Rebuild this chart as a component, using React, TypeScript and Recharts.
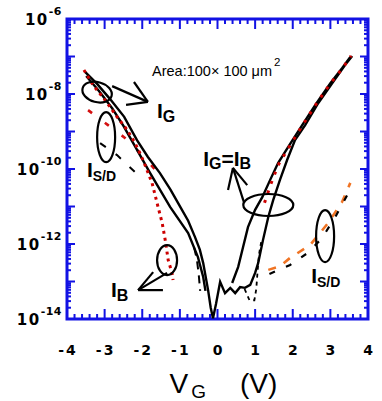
import React from "react";
import {
  LineChart,
  Line,
  XAxis,
  YAxis,
  ReferenceArea,
  ReferenceDot,
  ReferenceLine,
} from "recharts";

type Pt = [number, number];

// [V_G (V), log10 I (A)]
const igOuter: Pt[] = [
  [-3.52, -7.41], [-3.2, -7.73], [-2.86, -8.13], [-2.48, -8.61], [-2.14, -9.23],
  [-1.85, -9.68], [-1.53, -10.11], [-1.25, -10.55], [-0.99, -11.01], [-0.78, -11.38],
  [-0.6, -11.81], [-0.47, -12.15], [-0.38, -12.51], [-0.25, -13.23], [-0.18, -13.7],
  [-0.12, -13.98], [-0.04, -13.6], [0.07, -13.01], [0.2, -13.31], [0.34, -13.17],
  [0.47, -13.31], [0.6, -13.15], [0.73, -13.17], [0.87, -13.09], [1.0, -12.77],
  [1.08, -12.51], [1.21, -11.89], [1.35, -11.28], [1.48, -10.83], [1.66, -10.29],
  [1.85, -9.76], [2.06, -9.23], [2.33, -8.83], [2.68, -8.24], [3.07, -7.68],
  [3.39, -7.23], [3.58, -6.99],
];
const igInnerLeft: Pt[] = [
  [-3.49, -7.52], [-3.15, -7.92], [-2.8, -8.38], [-2.5, -8.85], [-2.24, -9.31],
  [-1.79, -10.11], [-1.26, -11.01], [-0.78, -11.71], [-0.52, -12.35], [-0.38, -12.88],
  [-0.32, -13.25],
];
const igUpperRight: Pt[] = [
  [0.39, -13.04], [0.55, -12.61], [0.68, -12.08], [0.81, -11.55], [1.0, -11.09],
  [1.19, -10.75], [1.4, -10.29], [1.61, -9.84], [1.88, -9.41], [2.2, -8.91],
  [2.6, -8.29], [3.0, -7.71], [3.31, -7.31], [3.53, -7.01],
];
const ibLeft: Pt[] = [
  [-3.55, -7.36], [-3.31, -7.76], [-2.99, -8.16], [-2.67, -8.61], [-2.4, -8.96],
  [-2.19, -9.31], [-1.98, -9.76], [-1.74, -10.37], [-1.58, -11.01], [-1.47, -11.44],
  [-1.39, -11.89], [-1.31, -12.43], [-1.21, -12.77], [-1.18, -12.96],
];
const ibRight: Pt[] = [
  [1.25, -10.9], [1.4, -10.45], [1.61, -9.9], [1.88, -9.45], [2.2, -8.93],
  [2.6, -8.3], [3.0, -7.72], [3.31, -7.33], [3.55, -6.98],
];
const isdLeftRed: Pt[] = [
  [-3.44, -8.43], [-2.91, -8.83], [-2.46, -9.17], [-2.06, -9.57], [-1.53, -10.16],
];
const isdLeftBlackTop: Pt[] = [
  [-3.12, -9.31], [-2.67, -9.63], [-2.11, -10.16], [-1.98, -10.3],
];
const isdLeftBlackLow: Pt[] = [
  [-0.62, -12.1], [-0.55, -12.4], [-0.5, -12.8], [-0.46, -13.25],
];
const isdDipBlack: Pt[] = [
  [0.72, -13.2], [0.85, -13.5], [0.98, -13.5], [1.03, -13.2], [1.06, -12.8],
  [1.1, -12.3], [1.16, -11.95],
];
const isdRightBlack: Pt[] = [
  [1.38, -12.8], [1.93, -12.56], [2.41, -12.23], [2.78, -11.84], [3.13, -11.28],
  [3.45, -10.69],
];
const isdRightOrange: Pt[] = [
  [1.35, -12.69], [1.65, -12.6], [1.93, -12.37], [2.46, -12.03], [2.94, -11.44],
  [3.31, -10.88], [3.53, -10.37],
];

const xLabels = [-4, -3, -2, -1, 0, 1, 2, 3, 4];
const yLabelExps = [-14, -12, -10, -8, -6];
const decades = [-14, -13, -12, -11, -10, -9, -8, -7, -6];

// annotation anchors, also in [V, log10 I]
const rings = [
  { at: [-3.2, -7.95], rx: 15, ry: 10, rot: 15 },
  { at: [-2.96, -9.15], rx: 9, ry: 25, rot: 0 },
  { at: [1.35, -10.96], rx: 25, ry: 11, rot: 0 },
  { at: [-1.34, -12.43], rx: 10, ry: 15, rot: 0 },
  { at: [2.86, -11.79], rx: 9, ry: 26, rot: 0 },
];
const strokes: [Pt, Pt][] = [
  [[-2.8, -7.79], [-1.85, -8.21]],
  [[-2.22, -7.68], [-1.85, -8.21]],
  [[-2.43, -8.29], [-1.85, -8.21]],
  [[0.41, -9.97], [0.28, -10.56]],
  [[0.41, -9.97], [0.79, -10.43]],
  [[0.41, -9.97], [0.71, -10.91]],
  [[-2.11, -13.23], [-1.34, -12.77]],
  [[-2.11, -13.23], [-1.71, -12.75]],
  [[-2.11, -13.23], [-1.45, -13.23]],
];
const tags = [
  { at: [-1.61, -8.64], main: "I", sub: "G" },
  { at: [-3.47, -10.21], main: "I", sub: "S/D" },
  { at: [-2.83, -13.41], main: "I", sub: "B" },
  { at: [2.49, -13.04], main: "I", sub: "S/D" },
];
const eqTagAt: Pt = [-0.38, -9.92];
const areaAt: Pt = [-1.74, -7.52];

const xTicks: number[] = [];
xLabels.slice(0, -1).forEach((v) => {
  for (let k = 0; k < 5; k++) xTicks.push(Math.round((v + k * 0.2) * 10) / 10);
});
xTicks.push(4);
const yTicks: number[] = [];
decades.slice(0, -1).forEach((d) => {
  for (let k = 1; k < 10; k++) yTicks.push(d + Math.log10(k));
});
yTicks.push(-6);

const rows = (pts: Pt[]) => pts.map(([x, y]) => ({ x, y }));

const BLUE = "#1212e4";
const TICK_FONT = "'DejaVu Sans', sans-serif";
const LABEL_FONT = "'Liberation Sans', Arial, sans-serif";
const isInt = (v: number) => Math.abs(v - Math.round(v)) < 1e-6;

const BottomTick = (p: any) => {
  const v = p.payload.value;
  const major = isInt(v);
  return (
    <g>
      <line x1={p.x} x2={p.x} y1={p.y} y2={p.y - (major ? 10 : 5)} stroke={BLUE} strokeWidth={2} />
      {major && (
        <text
          x={p.x + 1}
          y={p.y + 36}
          textAnchor="middle"
          fontFamily={TICK_FONT}
          fontWeight="bold"
          fontSize={14}
          letterSpacing={2}
          fill="#000"
        >
          {Math.round(v)}
        </text>
      )}
    </g>
  );
};

const TopTick = (p: any) => {
  const major = isInt(p.payload.value);
  return <line x1={p.x} x2={p.x} y1={p.y} y2={p.y + (major ? 10 : 5)} stroke={BLUE} strokeWidth={2} />;
};

const LeftTick = (p: any) => {
  const v = p.payload.value;
  const major = isInt(v);
  const e = Math.round(v);
  return (
    <g>
      <line x1={p.x} x2={p.x + (major ? 8 : 4)} y1={p.y} y2={p.y} stroke={BLUE} strokeWidth={2} />
      {major && yLabelExps.includes(e) && (
        <text
          x={p.x - 5}
          y={p.y + 6}
          textAnchor="end"
          fontFamily={TICK_FONT}
          fontWeight="bold"
          fontSize={15}
          letterSpacing={1.5}
          fill="#000"
        >
          10
          <tspan dy={-10} fontSize={11} letterSpacing={0.5}>
            {e}
          </tspan>
        </text>
      )}
    </g>
  );
};

const RightTick = (p: any) => {
  const major = isInt(p.payload.value);
  return <line x1={p.x} x2={p.x - (major ? 8 : 4)} y1={p.y} y2={p.y} stroke={BLUE} strokeWidth={2} />;
};

const AxisTitle = (p: any) => {
  const vb = p.viewBox;
  const cx = vb.x + vb.width / 2;
  return (
    <text x={cx - 48} y={vb.y + 74} fontFamily={LABEL_FONT} fontSize={28} fill="#000">
      V
      <tspan fontSize={19} dy={5} dx={3}>
        G
      </tspan>
      <tspan fontSize={28} dy={-5} dx={34}>
        (V)
      </tspan>
    </text>
  );
};

const lineBase = {
  dataKey: "y",
  dot: false,
  activeDot: false,
  isAnimationActive: false,
  type: "linear" as const,
};

export default function App() {
  return (
    <div style={{ position: "absolute", left: 0, top: 0, background: "#fff" }}>
      <LineChart width={382} height={401} margin={{ top: 9, right: 4, bottom: 32, left: 7 }}>
        <XAxis
          xAxisId={0}
          dataKey="x"
          type="number"
          domain={[-4, 4]}
          allowDataOverflow
          ticks={xTicks}
          interval={0}
          height={50}
          axisLine={false}
          tickLine={false}
          tickSize={0}
          tickMargin={0}
          tick={BottomTick}
          label={{ content: AxisTitle }}
        />
        <XAxis
          xAxisId="t"
          orientation="top"
          dataKey="x"
          type="number"
          domain={[-4, 4]}
          allowDataOverflow
          ticks={xTicks}
          interval={0}
          height={10}
          axisLine={false}
          tickLine={false}
          tickSize={0}
          tickMargin={0}
          tick={TopTick}
        />
        <YAxis
          yAxisId={0}
          type="number"
          domain={[-14, -6]}
          allowDataOverflow
          ticks={yTicks}
          interval={0}
          width={60}
          axisLine={false}
          tickLine={false}
          tickSize={0}
          tickMargin={0}
          tick={LeftTick}
        />
        <YAxis
          yAxisId="r"
          orientation="right"
          type="number"
          domain={[-14, -6]}
          allowDataOverflow
          ticks={yTicks}
          interval={0}
          width={10}
          axisLine={false}
          tickLine={false}
          tickSize={0}
          tickMargin={0}
          tick={RightTick}
        />
        <ReferenceArea x1={-4} x2={4} y1={-14} y2={-6} fill="none" stroke={BLUE} strokeWidth={3} />

        <Line key="orange" data={rows(isdRightOrange)} {...lineBase} stroke="#f07424" strokeWidth={2.6} strokeDasharray="8 9" />
        <Line key="sdrb" data={rows(isdRightBlack)} {...lineBase} stroke="#000" strokeWidth={2.2} strokeDasharray="6 12" />
        <Line key="sdlr" data={rows(isdLeftRed)} {...lineBase} stroke="#d41010" strokeWidth={2.6} strokeDasharray="5 16" />
        <Line key="sdlbt" data={rows(isdLeftBlackTop)} {...lineBase} stroke="#000" strokeWidth={2} strokeDasharray="7 12" />
        <Line key="sdlbl" data={rows(isdLeftBlackLow)} {...lineBase} stroke="#000" strokeWidth={2} strokeDasharray="8 6" />
        <Line key="sddip" data={rows(isdDipBlack)} {...lineBase} stroke="#000" strokeWidth={1.8} strokeDasharray="4 4" />
        <Line key="igo" data={rows(igOuter)} {...lineBase} stroke="#000" strokeWidth={2.4} />
        <Line key="igi" data={rows(igInnerLeft)} {...lineBase} stroke="#000" strokeWidth={2.4} />
        <Line key="igu" data={rows(igUpperRight)} {...lineBase} stroke="#000" strokeWidth={2.4} />
        <Line key="ibl" data={rows(ibLeft)} {...lineBase} stroke="#cc0000" strokeWidth={3} strokeDasharray="3 4" />
        <Line key="ibr" data={rows(ibRight)} {...lineBase} stroke="#cc0000" strokeWidth={3} strokeDasharray="3 7" />

        {rings.map((r, i) => (
          <ReferenceDot
            key={"ring" + i}
            x={r.at[0]}
            y={r.at[1]}
            r={1}
            shape={(p: any) => (
              <ellipse
                cx={p.cx}
                cy={p.cy}
                rx={r.rx}
                ry={r.ry}
                transform={`rotate(${r.rot} ${p.cx} ${p.cy})`}
                fill="none"
                stroke="#000"
                strokeWidth={2.2}
              />
            )}
          />
        ))}
        {strokes.map((s, i) => (
          <ReferenceLine
            key={"arrow" + i}
            segment={[
              { x: s[0][0], y: s[0][1] },
              { x: s[1][0], y: s[1][1] },
            ]}
            stroke="#000"
            strokeWidth={2.2}
          />
        ))}
        {tags.map((t, i) => (
          <ReferenceDot
            key={"tag" + i}
            x={t.at[0]}
            y={t.at[1]}
            r={1}
            shape={(p: any) => (
              <text x={p.cx} y={p.cy} fontFamily={LABEL_FONT} fontWeight="bold" fontSize={21} fill="#000">
                {t.main}
                <tspan fontSize={t.sub.length > 1 ? 14 : 16} dy={4}>
                  {t.sub}
                </tspan>
              </text>
            )}
          />
        ))}
        <ReferenceDot
          x={eqTagAt[0]}
          y={eqTagAt[1]}
          r={1}
          shape={(p: any) => (
            <text x={p.cx} y={p.cy} fontFamily={LABEL_FONT} fontWeight="bold" fontSize={21} fill="#000">
              I
              <tspan fontSize={16} dy={3}>
                G
              </tspan>
              <tspan fontSize={21} dy={-3}>
                =I
              </tspan>
              <tspan fontSize={16} dy={3}>
                B
              </tspan>
            </text>
          )}
        />
        <ReferenceDot
          x={areaAt[0]}
          y={areaAt[1]}
          r={1}
          shape={(p: any) => (
            <text x={p.cx} y={p.cy} fontFamily={LABEL_FONT} fontSize={14.5} fill="#000">
              Area:100× 100 μm
              <tspan fontSize={11.5} dy={-10} dx={2}>
                2
              </tspan>
            </text>
          )}
        />
      </LineChart>
    </div>
  );
}
